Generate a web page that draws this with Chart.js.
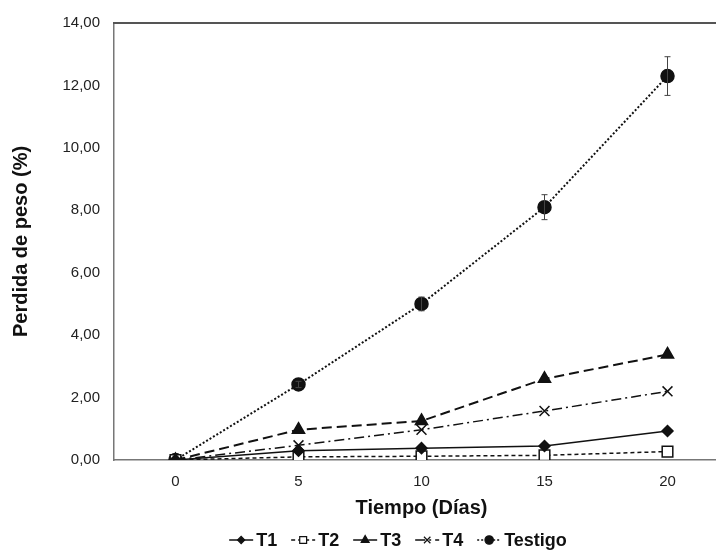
<!DOCTYPE html>
<html>
<head>
<meta charset="utf-8">
<script src="https://cdn.jsdelivr.net/npm/chart.js@4.4.1/dist/chart.umd.min.js"></script>
<style>
  html, body { margin: 0; padding: 0; background: #fff; overflow: hidden; }
  #grafico { display: block; }
</style>
</head>
<body>
<canvas id="grafico" width="738" height="553"></canvas>
<script>
// Datos
const dias = ['0', '5', '10', '15', '20'];
const t1 = [0, 0.30, 0.38, 0.45, 0.93];
const t2 = [0, 0.10, 0.12, 0.15, 0.27];
const t3 = [0, 0.97, 1.25, 2.60, 3.38];
const t4 = [0, 0.47, 0.97, 1.57, 2.20];
const testigo = [0, 2.42, 5.00, 8.10, 12.30];
const testigoError = [0, 0.10, 0.22, 0.40, 0.62];

const fuente = 'Liberation Sans, Arial, sans-serif';
const negro = '#111';

// Barras de error para el testigo
const barrasError = {
    id: 'barrasError',
    afterDatasetsDraw(chart) {
        const ctx = chart.ctx;
        const y = chart.scales.y;
        const meta = chart.getDatasetMeta(4);
        ctx.save();
        ctx.strokeStyle = '#444';
        ctx.lineWidth = 1;
        meta.data.forEach((p, i) => {
            const e = testigoError[i];
            if (!e) return;
            const top = y.getPixelForValue(testigo[i] + e);
            const bot = y.getPixelForValue(testigo[i] - e);
            ctx.beginPath();
            ctx.moveTo(p.x, top); ctx.lineTo(p.x, bot);
            ctx.moveTo(p.x - 3, top); ctx.lineTo(p.x + 3, top);
            ctx.moveTo(p.x - 3, bot); ctx.lineTo(p.x + 3, bot);
            ctx.stroke();
        });
        ctx.restore();
    }
};

// Línea superior del área
const bordeSuperior = {
    id: 'bordeSuperior',
    beforeDatasetsDraw(chart) {
        const { ctx, chartArea } = chart;
        ctx.save();
        ctx.strokeStyle = '#555';
        ctx.lineWidth = 2;
        ctx.beginPath();
        ctx.moveTo(chartArea.left - 1, chartArea.top);
        ctx.lineTo(chartArea.right, chartArea.top);
        ctx.stroke();
        ctx.restore();
    }
};

// Leyenda con línea y marcador
const leyenda = {
    id: 'leyenda',
    afterDraw(chart) {
        const ctx = chart.ctx;
        const y = 540;
        const largo = 24;
        ctx.save();
        ctx.font = 'bold 18px ' + fuente;
        ctx.textBaseline = 'middle';
        const ds = chart.data.datasets;
        const anchos = ds.map(d => largo + 3 + ctx.measureText(d.label).width);
        const sep = 14;
        const total = anchos.reduce((a, b) => a + b, 0) + sep * (ds.length - 1);
        let x = 398 - total / 2;
        ds.forEach((d, i) => {
            ctx.strokeStyle = negro;
            ctx.lineWidth = 1.5;
            ctx.setLineDash(d.borderDash || []);
            ctx.beginPath();
            ctx.moveTo(x, y); ctx.lineTo(x + largo, y);
            ctx.stroke();
            ctx.setLineDash([]);
            ctx.fillStyle = d.pointBackgroundColor;
            ctx.strokeStyle = negro;
            ctx.lineWidth = 1.2;
            Chart.helpers.drawPoint(ctx, {
                pointStyle: d.pointStyle,
                radius: d.pointRadius * 0.65,
                borderWidth: 1.2
            }, x + largo / 2, y);
            ctx.fillStyle = negro;
            ctx.fillText(d.label, x + largo + 3, y + 1);
            x += anchos[i] + sep;
        });
        ctx.restore();
    }
};

function serie(label, data, dash, estilo, radio, relleno, ancho) {
    return {
        label: label,
        data: data,
        borderColor: negro,
        borderWidth: ancho,
        borderDash: dash,
        pointStyle: estilo,
        pointRadius: radio,
        pointHoverRadius: radio,
        pointBackgroundColor: relleno,
        pointBorderColor: negro,
        pointBorderWidth: 1.5,
        tension: 0,
        fill: false
    };
}

new Chart(document.getElementById('grafico'), {
    type: 'line',
    data: {
        labels: dias,
        datasets: [
            serie('T1', t1, [], 'rectRot', 5.5, negro, 1.5),
            serie('T2', t2, [4, 3], 'rect', 7.5, '#fff', 1.5),
            serie('T3', t3, [10, 5], 'triangle', 7, negro, 2),
            serie('T4', t4, [10, 4, 2, 4], 'crossRot', 7, negro, 1.5),
            serie('Testigo', testigo, [2, 2], 'circle', 6.5, negro, 2)
        ]
    },
    options: {
        responsive: false,
        animation: false,
        layout: { padding: { left: 4, top: 21, right: 0, bottom: 33 } },
        scales: {
            x: {
                type: 'category',
                offset: true,
                grid: { display: false, drawTicks: false },
                border: { display: true, color: '#777', width: 1.5 },
                ticks: { color: '#222', font: { family: fuente, size: 15 }, padding: 13 },
                title: {
                    display: true,
                    text: 'Tiempo (Días)',
                    color: negro,
                    font: { family: fuente, size: 20, weight: 'bold' },
                    padding: { top: 3, bottom: 0 }
                },
                afterFit(s) { s.height = 60; }
            },
            y: {
                min: 0,
                max: 14,
                grid: { display: false, drawTicks: false },
                border: { display: true, color: '#777', width: 1.5 },
                ticks: {
                    stepSize: 2,
                    color: '#222',
                    font: { family: fuente, size: 15 },
                    padding: 14,
                    callback: v => v.toFixed(2).replace('.', ',')
                },
                title: {
                    display: true,
                    text: 'Perdida de peso (%)',
                    color: negro,
                    font: { family: fuente, size: 20, weight: 'bold' },
                    padding: { top: 5, bottom: 0 }
                },
                afterFit(s) { s.width = 110; }
            }
        },
        plugins: {
            legend: { display: false },
            tooltip: { enabled: false }
        }
    },
    plugins: [bordeSuperior, barrasError, leyenda]
});
</script>
</body>
</html>
